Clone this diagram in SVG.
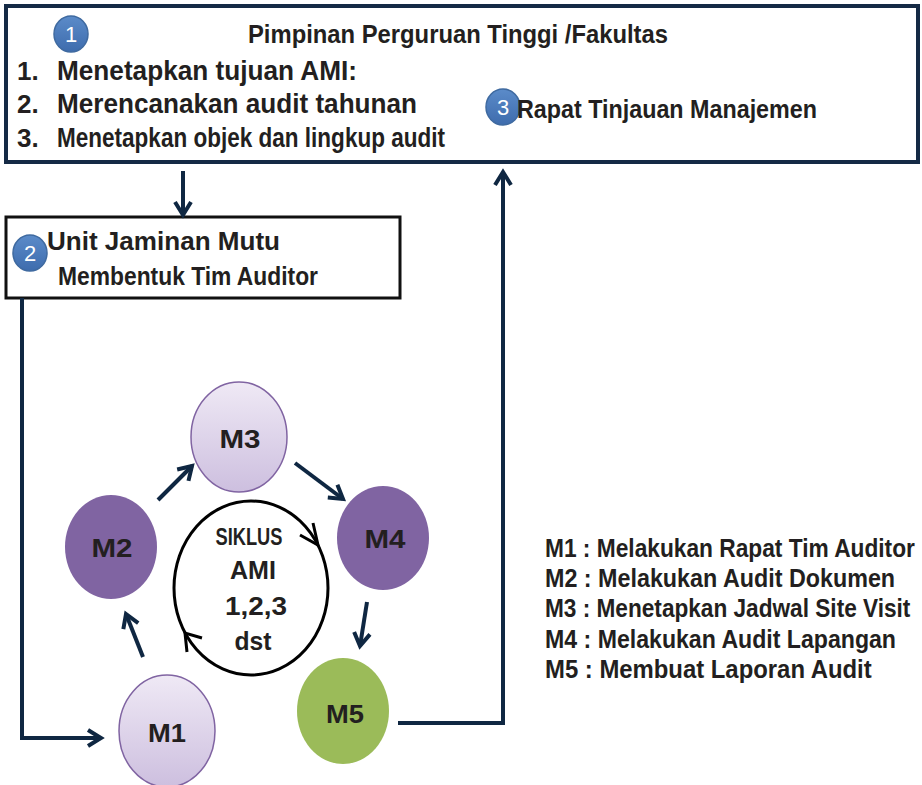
<svg xmlns="http://www.w3.org/2000/svg" width="922" height="785" viewBox="0 0 922 785">
<style>
.t{font-family:"Liberation Sans",Arial,sans-serif;font-weight:bold;fill:#231f20}
.n{font-family:"Liberation Sans",Arial,sans-serif;fill:#ffffff;font-size:22px;text-anchor:middle}
.badge{fill:url(#gb);stroke:#3f6aa0;stroke-width:1.5}
.conn{fill:none;stroke:#0f2742;stroke-width:4}
.cyc{fill:none;stroke:#000;stroke-width:3}
</style>
<defs>
<linearGradient id="gb" x1="0" y1="0" x2="0" y2="1"><stop offset="0" stop-color="#5b8bc9"/><stop offset="1" stop-color="#3e6cad"/></linearGradient>
<linearGradient id="gl" x1="0" y1="0" x2="0" y2="1"><stop offset="0" stop-color="#efe9f5"/><stop offset="1" stop-color="#cdbfdf"/></linearGradient>
<marker id="ah" markerUnits="userSpaceOnUse" markerWidth="24" markerHeight="24" viewBox="0 0 24 24" refX="20" refY="12" orient="auto">
<path d="M7,4 L20,12 L7,20" fill="none" stroke="#0f2742" stroke-width="4"/>
</marker>
</defs>

<g id="node-pimpinan">
<rect x="6" y="6" width="912" height="156" fill="#ffffff" stroke="#152a45" stroke-width="4"/>
<ellipse class="badge" cx="71" cy="34" rx="17" ry="18"/>
<text class="n" x="71" y="42">1</text>
<text class="t" x="248" y="43" font-size="25" textLength="420" lengthAdjust="spacingAndGlyphs">Pimpinan Perguruan Tinggi /Fakultas</text>
<text class="t" x="17" y="80" font-size="26">1.</text>
<text class="t" x="57" y="80" font-size="27" textLength="300" lengthAdjust="spacingAndGlyphs">Menetapkan tujuan AMI:</text>
<text class="t" x="17" y="113" font-size="26">2.</text>
<text class="t" x="57" y="113" font-size="27" textLength="360" lengthAdjust="spacingAndGlyphs">Merencanakan audit tahunan</text>
<text class="t" x="17" y="147" font-size="26">3.</text>
<text class="t" x="57" y="147" font-size="27" textLength="388" lengthAdjust="spacingAndGlyphs">Menetapkan objek dan lingkup audit</text>
<ellipse class="badge" cx="503" cy="107" rx="17" ry="18"/>
<text class="n" x="503" y="115">3</text>
<text class="t" x="517" y="118" font-size="26" textLength="300" lengthAdjust="spacingAndGlyphs">Rapat Tinjauan Manajemen</text>
</g>

<g id="node-ujm">
<rect x="6" y="217" width="394" height="81" fill="#ffffff" stroke="#111111" stroke-width="3"/>
<ellipse class="badge" cx="30" cy="253" rx="17" ry="18"/>
<text class="n" x="30" y="261">2</text>
<text class="t" x="47" y="250" font-size="25" textLength="233" lengthAdjust="spacingAndGlyphs">Unit Jaminan Mutu</text>
<text class="t" x="58" y="285" font-size="25" textLength="260" lengthAdjust="spacingAndGlyphs">Membentuk Tim Auditor</text>
</g>

<g id="node-m3">
<ellipse cx="239" cy="437" rx="48" ry="55" fill="url(#gl)" stroke="#8064a2" stroke-width="1.5"/>
<text class="t" x="240" y="448" font-size="26" text-anchor="middle" textLength="41" lengthAdjust="spacingAndGlyphs">M3</text>
</g>
<g id="node-m2">
<ellipse cx="111" cy="547" rx="46" ry="52" fill="#8064a2"/>
<text class="t" x="112" y="557" font-size="26" text-anchor="middle" textLength="41" lengthAdjust="spacingAndGlyphs">M2</text>
</g>
<g id="node-m4">
<ellipse cx="383" cy="538" rx="46" ry="52" fill="#8064a2"/>
<text class="t" x="385" y="548" font-size="26" text-anchor="middle" textLength="41" lengthAdjust="spacingAndGlyphs">M4</text>
</g>
<g id="node-m5">
<ellipse cx="343" cy="711" rx="46" ry="53" fill="#9bbb59"/>
<text class="t" x="345" y="723" font-size="26" text-anchor="middle" textLength="38" lengthAdjust="spacingAndGlyphs">M5</text>
</g>
<g id="node-m1">
<ellipse cx="167" cy="731" rx="48" ry="56" fill="url(#gl)" stroke="#8064a2" stroke-width="1.5"/>
<text class="t" x="167" y="742" font-size="26" text-anchor="middle" textLength="38" lengthAdjust="spacingAndGlyphs">M1</text>
</g>

<g id="node-siklus">
<ellipse cx="251" cy="588" rx="77" ry="87" fill="#ffffff" stroke="#000" stroke-width="3"/>
<text class="t" x="249" y="545" font-size="23" text-anchor="middle" textLength="67" lengthAdjust="spacingAndGlyphs">SIKLUS</text>
<text class="t" x="253" y="579" font-size="26" text-anchor="middle" textLength="46" lengthAdjust="spacingAndGlyphs">AMI</text>
<text class="t" x="256" y="615" font-size="26" text-anchor="middle" textLength="62" lengthAdjust="spacingAndGlyphs">1,2,3</text>
<text class="t" x="253" y="650" font-size="26" text-anchor="middle" textLength="37" lengthAdjust="spacingAndGlyphs">dst</text>
<polyline class="cyc" points="300,535 318,545 313,523"/>
<polyline class="cyc" points="202,638 185,633 187,652"/>
</g>

<g id="connectors">
<line class="conn" x1="183" y1="171" x2="183" y2="215" marker-end="url(#ah)"/>
<polyline class="conn" points="22,298 22,738 101,738" marker-end="url(#ah)"/>
<polyline class="conn" points="398,723 503,723 503,172" marker-end="url(#ah)"/>
<line class="conn" x1="158" y1="500" x2="192" y2="466" marker-end="url(#ah)"/>
<line class="conn" x1="295" y1="463" x2="343" y2="499" marker-end="url(#ah)"/>
<line class="conn" x1="367" y1="602" x2="360" y2="646" marker-end="url(#ah)"/>
<line class="conn" x1="143" y1="657" x2="126" y2="614" marker-end="url(#ah)"/>
</g>

<g id="legend">
<text class="t" transform="translate(545,557) scale(0.9,1)" font-size="25" textLength="411" lengthAdjust="spacingAndGlyphs">M1 : Melakukan Rapat Tim Auditor</text>
<text class="t" transform="translate(545,587) scale(0.9,1)" font-size="25" textLength="389" lengthAdjust="spacingAndGlyphs">M2 : Melakukan Audit Dokumen</text>
<text class="t" transform="translate(545,617) scale(0.9,1)" font-size="25" textLength="406" lengthAdjust="spacingAndGlyphs">M3 : Menetapkan Jadwal Site Visit</text>
<text class="t" transform="translate(545,648) scale(0.9,1)" font-size="25" textLength="390" lengthAdjust="spacingAndGlyphs">M4 : Melakukan Audit Lapangan</text>
<text class="t" transform="translate(545,678) scale(0.9,1)" font-size="25" textLength="363" lengthAdjust="spacingAndGlyphs">M5 : Membuat Laporan Audit</text>
</g>
</svg>
